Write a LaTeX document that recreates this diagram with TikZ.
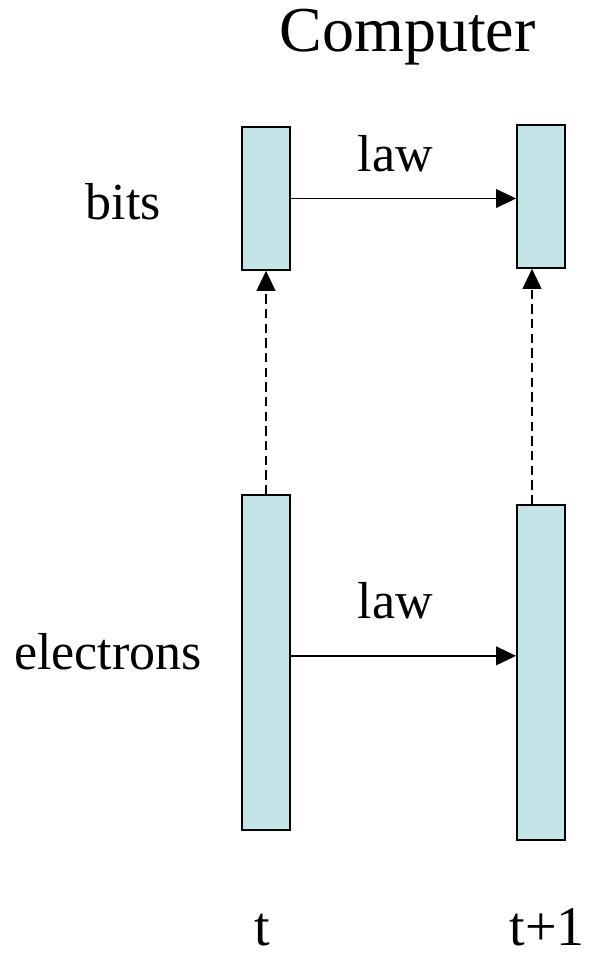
\documentclass[tikz,border=0pt]{standalone}
\usepackage{fontspec}
\setmainfont{Liberation Serif}
\usepackage{tikz}
\usetikzlibrary{arrows.meta}
\definecolor{cellC}{HTML}{C5E4E8}

\begin{document}
\begin{tikzpicture}[x=0.75pt,y=-0.75pt,
  cell/.style={draw=black,fill=cellC,line width=1.4pt,minimum width=36pt,inner sep=0pt},
  lbl/.style={font=\fontsize{39}{41}\selectfont,anchor=base,inner sep=0pt},
  lawarr/.style={-{Triangle[length=15pt,width=14pt]},line width=1.3pt},
  maparr/.style={lawarr,dash pattern=on 7pt off 4pt}]
\useasboundingbox (0,0) rectangle (592,955);
\node[cell,minimum height=107pt] (bitsT) at (266,198.5) {};
\node[cell,minimum height=107pt] (bitsN) at (541,196.5) {};
\node[cell,minimum height=251pt] (elecT) at (266,662.5) {};
\node[cell,minimum height=251pt] (elecN) at (541,672.5) {};
\node[lbl,font=\fontsize{48}{50}\selectfont] (title) at (407.5,52) {Computer};
\node[lbl] (bits) at (123.5,220) {bits};
\node[lbl] (electrons) at (108,669) {electrons};
\node[lbl] (lawA) at (395.5,172) {law};
\node[lbl] (lawB) at (395.5,618) {law};
\node[lbl,font=\fontsize{42}{44}\selectfont] (tnow) at (262,945) {t};
\node[lbl,font=\fontsize{42}{44}\selectfont] (tnext) at (547,945) {t+1};
\draw[lawarr] (bitsT.east) -- (bitsT.east -| bitsN.west);
\draw[lawarr] ([yshift=5pt]elecT.east) -- ([yshift=5pt]elecT.east -| elecN.west);
\draw[maparr] (elecT.north) -- (bitsT.south);
\draw[maparr] ([xshift=-6.75pt]elecN.north) -- ([xshift=-6.75pt]bitsN.south);
\end{tikzpicture}
\end{document}
